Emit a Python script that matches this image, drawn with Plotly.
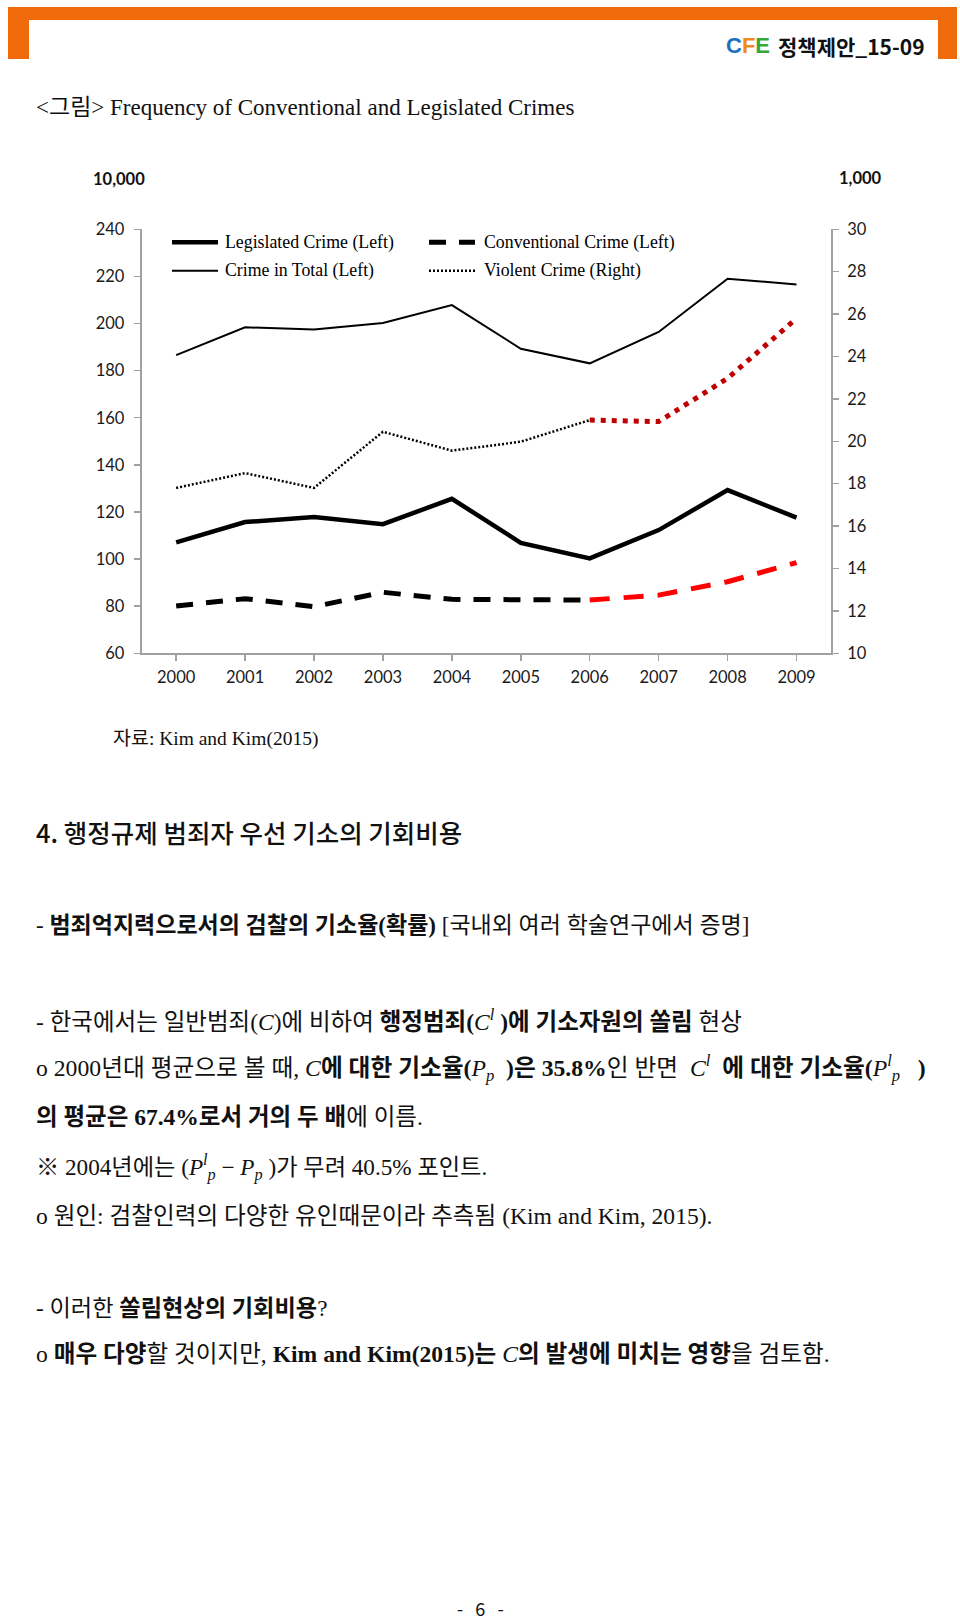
import plotly.graph_objects as go

W, H = 960, 1624

# ---------------- data ----------------
years = ["2000", "2001", "2002", "2003", "2004", "2005", "2006", "2007", "2008", "2009"]
crime_total = [186.6, 198.4, 197.5, 200.2, 207.8, 189.3, 183.1, 196.4, 219.0, 216.6]      # left, 10,000
legislated = [107.1, 115.7, 117.9, 114.8, 125.6, 106.9, 100.3, 112.3, 129.3, 117.6]       # left
conventional = [80.1, 83.2, 79.8, 85.9, 82.9, 82.6, 82.6, 84.7, 90.4, 98.5]               # left
violent = [17.8, 18.5, 17.8, 20.45, 19.56, 19.98, 21.0, 20.93, 22.97, 25.8]               # right, 1,000
split_idx = 6  # 2006: highlighted (red) from here on

left_ticks = [60, 80, 100, 120, 140, 160, 180, 200, 220, 240]
right_ticks = [10, 12, 14, 16, 18, 20, 22, 24, 26, 28, 30]

legend_names = ["Legislated Crime (Left)", "Conventional Crime (Left)",
                "Crime in Total (Left)", "Violent Crime (Right)"]


def px(x):
    return x / W


def py(y):
    return 1 - y / H


fig = go.Figure()

BLACK = "#000000"
RED = "#ff0000"
DARKRED = "#c00000"

conv_style = dict(width=5, dash="17px,13px")
conv_red_style = dict(width=5, dash="20px,14px")
viol_style = dict(width=2.5, dash="2px,2px")
viol_red_style = dict(width=5, dash="5px,6px")

fig.add_trace(go.Scatter(x=years, y=crime_total, mode="lines", name=legend_names[2],
                         line=dict(color=BLACK, width=2), showlegend=False))
fig.add_trace(go.Scatter(x=years, y=legislated, mode="lines", name=legend_names[0],
                         line=dict(color=BLACK, width=4.5), showlegend=False))
fig.add_trace(go.Scatter(x=years[:split_idx + 1], y=conventional[:split_idx + 1], mode="lines",
                         name=legend_names[1], line=dict(color=BLACK, **conv_style), showlegend=False))
fig.add_trace(go.Scatter(x=years[split_idx:], y=conventional[split_idx:], mode="lines",
                         name=legend_names[1] + " 2006-", line=dict(color=RED, **conv_red_style),
                         showlegend=False))
fig.add_trace(go.Scatter(x=years[:split_idx + 1], y=violent[:split_idx + 1], mode="lines",
                         name=legend_names[3], yaxis="y2",
                         line=dict(color=BLACK, **viol_style), showlegend=False))
fig.add_trace(go.Scatter(x=years[split_idx:], y=violent[split_idx:], mode="lines",
                         name=legend_names[3] + " 2006-", yaxis="y2",
                         line=dict(color=DARKRED, **viol_red_style), showlegend=False))

# plot area in pixels
X0, X1 = 141.7, 831.0
Y0, Y1 = 229.3, 653.3

AXC = "#a0a0a0"
tickfont = dict(family="Lato, 'Open Sans', sans-serif", size=16.5, color="#1a1a1a")

fig.update_layout(
    width=W, height=H,
    margin=dict(l=0, r=0, t=0, b=0, autoexpand=False),
    paper_bgcolor="white", plot_bgcolor="white",
    showlegend=False,
    hovermode=False,
    xaxis=dict(domain=[px(X0), px(X1)], type="category", range=[-0.5, 9.5], automargin=False,
               showline=True, linecolor=AXC, linewidth=2, showgrid=False, zeroline=False,
               ticks="outside", ticklen=6, tickwidth=1.5, tickcolor=AXC,
               tickfont=tickfont, ticklabelstandoff=2, anchor="y", fixedrange=True),
    yaxis=dict(domain=[py(Y1), py(Y0)], range=[60, 240], tickvals=left_ticks, automargin=False,
               showline=True, linecolor=AXC, linewidth=2, showgrid=False, zeroline=False,
               ticks="outside", ticklen=6, tickwidth=1.5, tickcolor=AXC,
               tickfont=tickfont, ticklabelstandoff=6, anchor="x", fixedrange=True),
    yaxis2=dict(range=[10, 30], tickvals=right_ticks, overlaying="y", side="right", anchor="x",
                automargin=False, fixedrange=True,
                showline=True, linecolor=AXC, linewidth=2, showgrid=False, zeroline=False,
                ticks="outside", ticklen=6, tickwidth=1.5, tickcolor=AXC,
                tickfont=tickfont, ticklabelstandoff=5),
)

shapes = []
annotations = []

ORANGE = "#ee6a0a"
# header frame
shapes.append(dict(type="rect", xref="paper", yref="paper", x0=px(8), x1=px(957), y0=py(20), y1=py(7),
                   fillcolor=ORANGE, line=dict(width=0), layer="above"))
shapes.append(dict(type="rect", xref="paper", yref="paper", x0=px(8), x1=px(29), y0=py(59), y1=py(7),
                   fillcolor=ORANGE, line=dict(width=0), layer="above"))
shapes.append(dict(type="rect", xref="paper", yref="paper", x0=px(938), x1=px(957), y0=py(59), y1=py(7),
                   fillcolor=ORANGE, line=dict(width=0), layer="above"))

# logo + document id
annotations.append(dict(xref="paper", yref="paper", x=px(724), y=py(45), xanchor="left", yanchor="middle",
                        showarrow=False,
                        text="<b><span style='color:#1f6fc0'>C</span><span style='color:#f08a1c'>F</span>"
                             "<span style='color:#35a83a'>E</span></b>",
                        font=dict(family="'Liberation Sans Narrow', 'Liberation Sans', sans-serif", size=22)))
annotations.append(dict(xref="paper", yref="paper", x=px(776), y=py(46), xanchor="left", yanchor="middle",
                        showarrow=False, text="<b>정책제안_15-09</b>",
                        font=dict(family="'Noto Sans CJK KR', sans-serif", size=21, color="#111")))

# figure title
annotations.append(dict(xref="paper", yref="paper", x=px(34), y=py(108), xanchor="left", yanchor="middle",
                        showarrow=False, text="<그림> Frequency of Conventional and Legislated Crimes",
                        font=dict(family="'Liberation Serif', 'Noto Sans CJK KR', serif", size=23, color="#111")))

# axis unit labels
unitfont = dict(family="Lato, 'Open Sans', sans-serif", size=16.5, color="#111")
annotations.append(dict(xref="paper", yref="paper", x=px(119), y=py(179), xanchor="center", yanchor="middle",
                        showarrow=False, text="<b>10,000</b>", font=unitfont))
annotations.append(dict(xref="paper", yref="paper", x=px(860), y=py(178), xanchor="center", yanchor="middle",
                        showarrow=False, text="<b>1,000</b>", font=unitfont))

# manual legend
legfont = dict(family="'Liberation Serif', 'Times New Roman', serif", size=17.8, color="#000")
leg_rows = [242.3, 270.7]
leg_cols = [(172, 218, 223), (429, 475, 482)]
leg_styles = [dict(color=BLACK, width=4.5), dict(color=BLACK, **conv_style),
              dict(color=BLACK, width=2), dict(color=BLACK, **viol_style)]
for i, name in enumerate(legend_names):
    r, c = divmod(i, 2)
    lx0, lx1, tx = leg_cols[c]
    yy = leg_rows[r]
    shapes.append(dict(type="line", xref="paper", yref="paper", x0=px(lx0), x1=px(lx1), y0=py(yy), y1=py(yy),
                       line=leg_styles[i]))
    annotations.append(dict(xref="paper", yref="paper", x=px(tx), y=py(yy), xanchor="left", yanchor="middle",
                            showarrow=False, text=name, font=legfont))

# source
annotations.append(dict(xref="paper", yref="paper", x=px(111), y=py(739), xanchor="left", yanchor="middle",
                        showarrow=False, text="자료: Kim and Kim(2015)",
                        font=dict(family="'Liberation Serif', 'Noto Sans CJK KR', serif", size=19.5, color="#111")))

# body text
body_family = "'Liberation Serif', 'Noto Sans CJK KR', serif"
heading = dict(text="4. 행정규제 범죄자 우선 기소의 기회비용", y=831, size=25.5)
lines = [
    ("- <b>범죄억지력으로서의 검찰의 기소율(확률)</b> [국내외 여러 학술연구에서 증명]", 925, 23),
    ("- 한국에서는 일반범죄(<i>C</i>)에 비하여 <b>행정범죄(</b><i>C<sup>l</sup></i> <b>)에 기소자원의 쏠림</b> 현상",
     1020, 23.5),
    ("o 2000년대 평균으로 볼 때, <i>C</i><b>에 대한 기소율(</b><i>P<sub>p</sub></i>  <b>)은 35.8%</b>인 반면  "
     "<i>C<sup>l</sup></i>  <b>에 대한 기소율(</b><i>P<sup>l</sup><sub>p</sub></i>   <b>)</b>", 1068, 23.7),
    ("<b>의 평균은 67.4%로서 거의 두 배</b>에 이름.", 1117, 23.5),
    ("※ 2004년에는 (<i>P<sup>l</sup><sub>p</sub></i> − <i>P<sub>p</sub></i> )가 무려 40.5% 포인트.", 1167, 23.2),
    ("o 원인: 검찰인력의 다양한 유인때문이라 추측됨 (Kim and Kim, 2015).", 1216, 23.6),
    ("- 이러한 <b>쏠림현상의 기회비용</b>?", 1308, 23.2),
    ("o <b>매우 다양</b>할 것이지만, <b>Kim and Kim(2015)는</b> <i>C</i><b>의 발생에 미치는 영향</b>을 검토함.",
     1354, 23.6),
]
annotations.append(dict(xref="paper", yref="paper", x=px(34), y=py(heading["y"]), xanchor="left",
                        yanchor="middle", showarrow=False, text=heading["text"],
                        font=dict(family="'Noto Sans CJK KR', sans-serif", size=heading["size"], color="#111",
                                  weight=500)))
for txt, yy, sz in lines:
    annotations.append(dict(xref="paper", yref="paper", x=px(34), y=py(yy), xanchor="left", yanchor="middle",
                            showarrow=False, text=txt,
                            font=dict(family=body_family, size=sz, color="#111")))

# page number
annotations.append(dict(xref="paper", yref="paper", x=px(480), y=py(1608), xanchor="center", yanchor="middle",
                        showarrow=False, text="-   6   -", borderpad=0,
                        font=dict(family="'Noto Sans CJK KR', sans-serif", size=18, color="#111")))

fig.update_layout(shapes=shapes, annotations=annotations)
fig.write_html("out.html", config={"displayModeBar": False, "staticPlot": True},
               post_script="document.body.style.margin='0';document.body.style.padding='0';"
                           "document.documentElement.style.overflow='hidden';")
